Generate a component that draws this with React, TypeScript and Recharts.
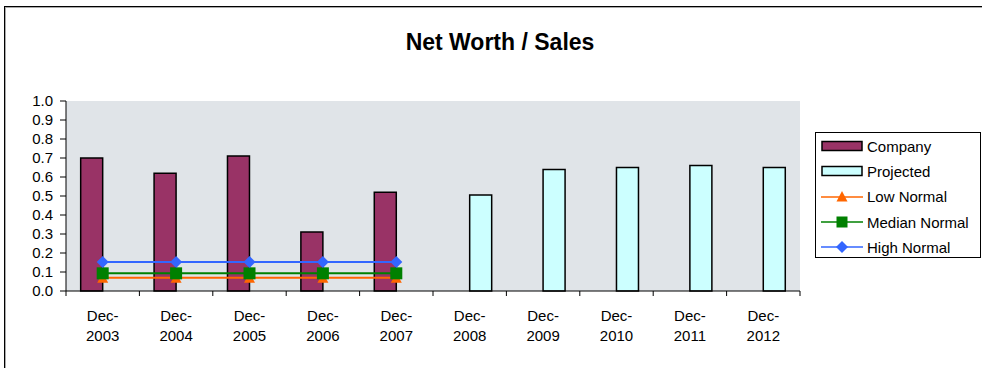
import React from "react";
import {
  ComposedChart,
  Bar,
  Line,
  XAxis,
  YAxis,
  CartesianGrid,
} from "recharts";

const years = ["2003", "2004", "2005", "2006", "2007", "2008", "2009", "2010", "2011", "2012"];
const company = [0.7, 0.62, 0.71, 0.31, 0.52, null, null, null, null, null];
const projected = [null, null, null, null, null, 0.505, 0.64, 0.65, 0.66, 0.65];
const lowNormal = [0.07, 0.07, 0.07, 0.07, 0.07, null, null, null, null, null];
const medianNormal = [0.093, 0.093, 0.093, 0.093, 0.093, null, null, null, null, null];
const highNormal = [0.153, 0.153, 0.153, 0.153, 0.153, null, null, null, null, null];
const yTicks = [0, 0.1, 0.2, 0.3, 0.4, 0.5, 0.6, 0.7, 0.8, 0.9, 1.0];

const data = years.map((y, i) => ({
  name: "Dec-" + y,
  company: company[i],
  projected: projected[i],
  low: lowNormal[i],
  median: medianNormal[i],
  high: highNormal[i],
}));

const COLORS = {
  company: "#993366",
  projected: "#CCFFFF",
  low: "#FF6600",
  median: "#008000",
  high: "#3366FF",
};

const font = "'Liberation Sans', Arial, sans-serif";

// layout
const W = 982;
const H = 368;
const M = { top: 101, right: 182, bottom: 17, left: 26 };
const Y_AXIS_W = 40;
const X_AXIS_H = 60;
const PLOT_W = W - M.left - M.right - Y_AXIS_W;
const PLOT_BOTTOM = H - M.bottom - X_AXIS_H;
const STEP = PLOT_W / years.length;

function Triangle(props: any) {
  const { cx, cy, value } = props;
  if (value == null || cx == null) return null;
  return (
    <path
      key={`t-${cx}`}
      d={`M${cx},${cy - 5} L${cx + 5.5},${cy + 5} L${cx - 5.5},${cy + 5} Z`}
      fill={COLORS.low}
    />
  );
}

function Square(props: any) {
  const { cx, cy, value } = props;
  if (value == null || cx == null) return null;
  return (
    <rect key={`s-${cx}`} x={cx - 6} y={cy - 6} width={12} height={12} fill={COLORS.median} />
  );
}

function Diamond(props: any) {
  const { cx, cy, value } = props;
  if (value == null || cx == null) return null;
  return (
    <path
      key={`d-${cx}`}
      d={`M${cx},${cy - 6} L${cx + 6},${cy} L${cx},${cy + 6} L${cx - 6},${cy} Z`}
      fill={COLORS.high}
    />
  );
}

function XTick(props: any) {
  const { x, y, payload, index } = props;
  const [a, b] = String(payload.value).split("-");
  const left = x - STEP / 2;
  return (
    <g>
      <line x1={left} y1={PLOT_BOTTOM} x2={left} y2={PLOT_BOTTOM + 5} stroke="#000" />
      {index === years.length - 1 && (
        <line x1={x + STEP / 2} y1={PLOT_BOTTOM} x2={x + STEP / 2} y2={PLOT_BOTTOM + 5} stroke="#000" />
      )}
      <text x={x} y={y + 22} textAnchor="middle" fontSize={15} fontFamily={font} fill="#000">
        <tspan x={x} dy={0}>{a}-</tspan>
        <tspan x={x} dy={20}>{b}</tspan>
      </text>
    </g>
  );
}

const legendItems = [
  { label: "Company", kind: "bar", color: COLORS.company },
  { label: "Projected", kind: "bar", color: COLORS.projected },
  { label: "Low Normal", kind: "tri", color: COLORS.low },
  { label: "Median Normal", kind: "sq", color: COLORS.median },
  { label: "High Normal", kind: "dia", color: COLORS.high },
];

function LegendBox() {
  return (
    <div
      style={{
        position: "absolute",
        left: 815,
        top: 132,
        width: 166,
        height: 126,
        border: "1px solid #000",
        boxSizing: "border-box",
        background: "#fff",
        fontFamily: font,
        fontSize: 15,
        paddingTop: 0.5,
        whiteSpace: "nowrap",
      }}
    >
      {legendItems.map((it) => (
        <div key={it.label} style={{ display: "flex", alignItems: "center", height: 25.3 }}>
          <svg width={47} height={14} style={{ marginLeft: 4, flex: "none" }}>
            {it.kind === "bar" ? (
              <rect x={2} y={2.5} width={40} height={9} fill={it.color} stroke="#000" strokeWidth={1.5} />
            ) : (
              <>
                <line x1={1} y1={7} x2={43} y2={7} stroke={it.color} strokeWidth={1.5} />
                {it.kind === "tri" && <path d="M22,1 L27.5,11.5 L16.5,11.5 Z" fill={it.color} />}
                {it.kind === "sq" && <rect x={16.5} y={1.5} width={11} height={11} fill={it.color} />}
                {it.kind === "dia" && <path d="M22,1 L28,7 L22,13 L16,7 Z" fill={it.color} />}
              </>
            )}
          </svg>
          <span>{it.label}</span>
        </div>
      ))}
    </div>
  );
}

export default function App() {
  return (
    <div style={{ position: "absolute", left: 0, top: 0, width: W, height: H, background: "#fff", overflow: "hidden" }}>
      <div
        style={{
          position: "absolute",
          left: 4,
          top: 6,
          width: 990,
          height: 380,
          borderLeft: "1px solid #000",
          borderTop: "1px solid #000",
          boxShadow: "1px 1px 0 #aaa inset",
        }}
      />
      <div
        style={{
          position: "absolute",
          left: 0,
          top: 28,
          width: 1000,
          textAlign: "center",
          fontFamily: font,
          fontWeight: "bold",
          fontSize: 23,
          lineHeight: "28px",
        }}
      >
        Net Worth / Sales
      </div>
      <div style={{ position: "absolute", left: 0, top: 0 }}>
        <ComposedChart
          width={W}
          height={H}
          data={data}
          margin={M}
          barCategoryGap="20%"
          barGap={0}
        >
          <CartesianGrid fill="#E0E4E8" horizontal={false} vertical={false} />
          <XAxis
            dataKey="name"
            interval={0}
            axisLine={{ stroke: "#000" }}
            tickLine={false}
            tick={<XTick />}
            height={X_AXIS_H}
          />
          <XAxis xAxisId="top" orientation="top" dataKey="name" tick={false} tickLine={false} axisLine={{ stroke: "#999", strokeWidth: 2 }} height={0} />
          <YAxis
            domain={[0, 1]}
            ticks={yTicks}
            interval={0}
            tickFormatter={(v: number) => v.toFixed(1)}
            axisLine={{ stroke: "#000" }}
            tickLine={{ stroke: "#000" }}
            tickSize={6}
            tickMargin={7}
            width={Y_AXIS_W}
            tick={{ fontSize: 15, fontFamily: font, fill: "#000" }}
          />
          <YAxis yAxisId="right" orientation="right" domain={[0, 1]} tick={false} tickLine={false} axisLine={{ stroke: "#999", strokeWidth: 2 }} width={0} />
          <Bar dataKey="company" fill={COLORS.company} stroke="#000" strokeWidth={1.5} isAnimationActive={false} />
          <Bar dataKey="projected" fill={COLORS.projected} stroke="#000" strokeWidth={1.5} isAnimationActive={false} />
          <Line dataKey="low" stroke={COLORS.low} strokeWidth={2} dot={<Triangle />} activeDot={false} isAnimationActive={false} />
          <Line dataKey="median" stroke={COLORS.median} strokeWidth={2} dot={<Square />} activeDot={false} isAnimationActive={false} />
          <Line dataKey="high" stroke={COLORS.high} strokeWidth={2} dot={<Diamond />} activeDot={false} isAnimationActive={false} />
        </ComposedChart>
      </div>
      <LegendBox />
    </div>
  );
}
